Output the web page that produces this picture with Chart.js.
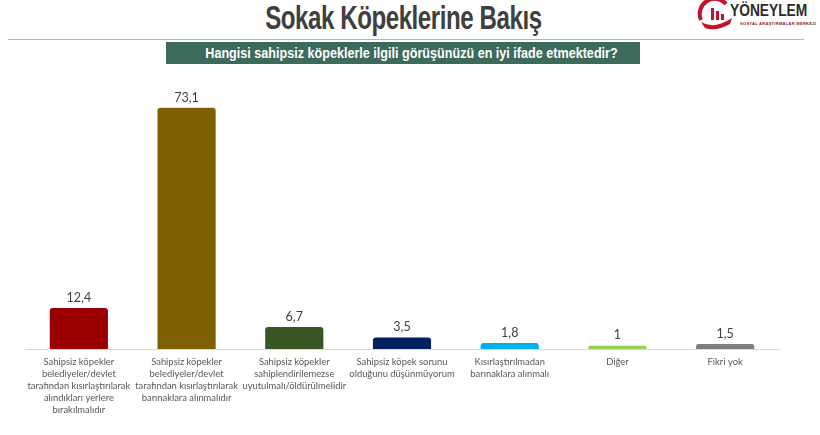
<!DOCTYPE html>
<html>
<head>
<meta charset="utf-8">
<script src="https://cdn.jsdelivr.net/npm/chart.js@4/dist/chart.umd.min.js"></script>
<style>
  body { margin: 0; background: #fff; width: 820px; height: 435px; overflow: hidden; position: relative; font-family: "Liberation Sans", Arial, sans-serif; }
  #title { position: absolute; top: -1px; left: 0; width: 806px; text-align: center; font-weight: bold; font-size: 33px; color: #3f3f3f; line-height: 38px; }
  #title span { display: inline-block; transform: scaleX(0.73); letter-spacing: -0.6px; }
  #rule { position: absolute; top: 39px; left: 8px; width: 796px; height: 1px; background: #b5b5b5; }
  #question { position: absolute; top: 42px; left: 166px; width: 474px; height: 22px; background: #3d6b5b; color: #fff; text-align: center; font-weight: bold; font-size: 15px; line-height: 22px; white-space: nowrap; }
  #question span { display: inline-block; transform: scaleX(0.84); }
  #logo { position: absolute; top: 0; left: 696px; width: 124px; height: 34px; }
  #logoName { position: absolute; top: 2px; left: 34px; width: 90px; font-weight: bold; font-size: 16px; color: #2b2b2b; transform: scaleX(0.86); transform-origin: left top; white-space: nowrap; }
  #logoSub { position: absolute; top: 21px; left: 44px; font-size: 4px; font-weight: bold; color: #8a2020; letter-spacing: 0.3px; white-space: nowrap; }
  #chartBox { position: absolute; top: 0; left: 0; width: 820px; height: 435px; }
</style>
</head>
<body>
<div id="title"><span>Sokak Köpeklerine Bakış</span></div>
<div id="rule"></div>
<div id="question"><span>Hangisi sahipsiz köpeklerle ilgili görüşünüzü en iyi ifade etmektedir?</span></div>
<div id="logo">
  <svg width="44" height="34" viewBox="0 0 44 34">
    <path d="M5 20 A 15 15 0 0 1 30 4" stroke="#c8102e" stroke-width="4" fill="none"/>
    <rect x="15" y="8" width="3" height="12" fill="#c8102e"/>
    <rect x="20" y="11" width="3" height="9" fill="#c8102e"/>
    <rect x="25" y="14" width="3" height="6" fill="#c8102e"/>
    <path d="M5 22 Q 18 30 36 18 L 34 24 Q 20 32 9 28 Z" fill="#c8102e"/>
  </svg>
  <div id="logoName">YÖNEYLEM</div>
  <div id="logoSub">SOSYAL ARAŞTIRMALAR MERKEZİ</div>
</div>
<div id="chartBox"><canvas id="myChart"></canvas></div>

<script>
// categories (each one split in lines like the original slide)
var categories = [
  ["Sahipsiz köpekler", "belediyeler/devlet", "tarafından kısırlaştırılarak", "alındıkları yerlere", "bırakılmalıdır"],
  ["Sahipsiz köpekler", "belediyeler/devlet", "tarafından kısırlaştırılarak", "barınaklara alınmalıdır"],
  ["Sahipsiz köpekler", "sahiplendirilemezse", "uyutulmalı/öldürülmelidir"],
  ["Sahipsiz köpek sorunu", "olduğunu düşünmüyorum"],
  ["Kısırlaştırılmadan", "barınaklara alınmalı"],
  ["Diğer"],
  ["Fikri yok"]
];
var values = [12.4, 73.1, 6.7, 3.5, 1.8, 1, 1.5];
var barColors = ["#9b0000", "#7f6000", "#375623", "#002060", "#00b0f0", "#92d050", "#7f7f7f"];

// value labels above the bars (no datalabels plugin here)
var valueLabels = {
  id: "valueLabels",
  afterDatasetsDraw: function(chart) {
    var ctx = chart.ctx;
    var meta = chart.getDatasetMeta(0);
    ctx.save();
    ctx.font = "12.5px Lato, 'Open Sans', sans-serif";
    ctx.fillStyle = "#404040";
    ctx.textAlign = "center";
    ctx.textBaseline = "bottom";
    meta.data.forEach(function(bar, i) {
      var txt = String(values[i]).replace(".", ",");
      ctx.fillText(txt, bar.x, bar.y - 4);
    });
    ctx.restore();
  }
};

var ctx = document.getElementById("myChart").getContext("2d");
var chart = new Chart(ctx, {
  type: "bar",
  data: {
    labels: categories,
    datasets: [{
      data: values,
      backgroundColor: barColors,
      borderRadius: 3,
      borderSkipped: "bottom",
      barPercentage: 0.54,
      categoryPercentage: 1
    }]
  },
  options: {
    responsive: true,
    maintainAspectRatio: false,
    animation: false,
    layout: { padding: { top: 85, left: 25, right: 41, bottom: 0 } },
    plugins: {
      legend: { display: false },
      tooltip: { enabled: false }
    },
    scales: {
      x: {
        grid: { display: false, drawTicks: false },
        border: { display: true, color: "#d9d9d9", width: 1 },
        ticks: {
          color: "#595959",
          font: { family: "Lato, 'Open Sans', sans-serif", size: 9.4, lineHeight: 1.28 },
          padding: 7,
          maxRotation: 0,
          autoSkip: false
        },
        afterFit: function(scale) { scale.height = 86; }
      },
      y: {
        display: false,
        min: 0,
        max: 80
      }
    }
  },
  plugins: [valueLabels]
});
</script>
</body>
</html>
